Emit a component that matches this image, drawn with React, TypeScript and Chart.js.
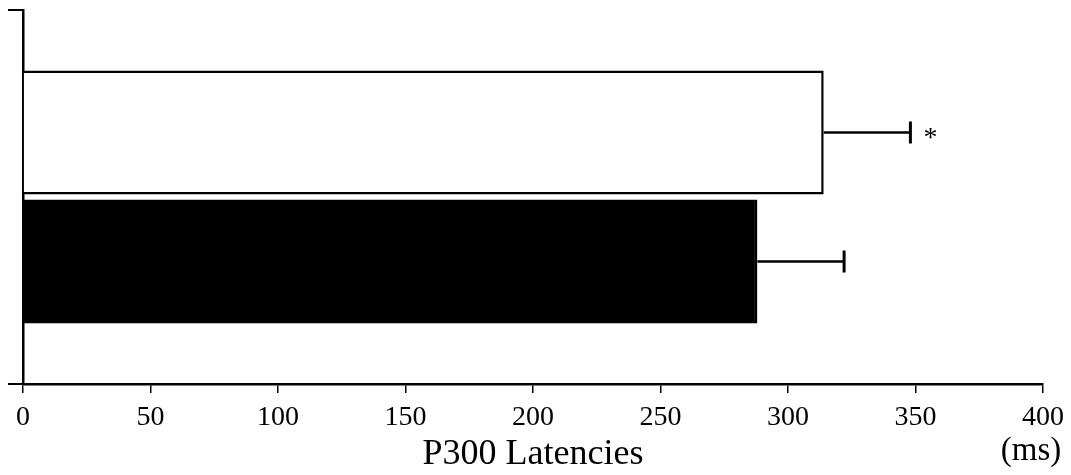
import React, { useEffect, useRef } from "react";
import { Chart, registerables } from "chart.js";

Chart.register(...registerables);

// ---- data ----
const categories = [""];
const groupNames = ["Group A", "Group B"];
const meanLatency = [314, 288]; // ms
const errorPlus = [34, 34]; // ms
const significance = ["*", ""];
const xTicks = [0, 50, 100, 150, 200, 250, 300, 350, 400];
const xTitle = "P300 Latencies";
const unitLabel = "(ms)";
const barFills = ["#ffffff", "#000000"];

const FONT = "'Liberation Serif', 'Times New Roman', serif";

const errorBarPlugin = {
  id: "errorBars",
  afterDatasetsDraw(chart: any) {
    const ctx = chart.ctx;
    const xs = chart.scales.x;
    ctx.save();
    ctx.strokeStyle = "#000";
    ctx.fillStyle = "#000";
    chart.data.datasets.forEach((ds: any, i: number) => {
      const meta = chart.getDatasetMeta(i);
      meta.data.forEach((el: any, j: number) => {
        const v = ds.data[j];
        const e = errorPlus[i];
        const x0 = el.x;
        const x1 = xs.getPixelForValue(v + e);
        const y = el.y;
        ctx.lineWidth = 2.5;
        ctx.beginPath();
        ctx.moveTo(x0, y);
        ctx.lineTo(x1, y);
        ctx.stroke();
        ctx.lineWidth = 3;
        ctx.beginPath();
        ctx.moveTo(x1, y - 11);
        ctx.lineTo(x1, y + 11);
        ctx.stroke();
        const s = significance[i];
        if (s) {
          ctx.font = `28px ${FONT}`;
          ctx.textAlign = "left";
          ctx.textBaseline = "middle";
          ctx.fillText(s, x1 + 13, y + 6);
        }
      });
    });
    // unit label under the last tick
    ctx.font = `33px ${FONT}`;
    ctx.textAlign = "center";
    ctx.textBaseline = "middle";
    ctx.fillText(unitLabel, xs.getPixelForValue(xTicks[xTicks.length - 1]) - 12, 451);
    ctx.restore();
  },
};

export default function App() {
  const ref = useRef<HTMLCanvasElement | null>(null);
  useEffect(() => {
    if (!ref.current) return;
    const chart = new Chart(ref.current, {
      type: "bar",
      data: {
        labels: categories,
        datasets: groupNames.map((name, i) => ({
          label: name,
          data: [meanLatency[i]],
          backgroundColor: barFills[i],
          borderColor: "#000",
          borderWidth: 2.5,
          borderSkipped: "start" as const,
          categoryPercentage: 0.69,
          barPercentage: 0.96,
        })),
      },
      options: {
        indexAxis: "y",
        animation: false,
        responsive: false,
        maintainAspectRatio: false,
        layout: { padding: { top: 10, right: 28, bottom: 0, left: 0 } },
        plugins: {
          legend: { display: false },
          tooltip: { enabled: false },
        },
        scales: {
          x: {
            type: "linear",
            min: 0,
            max: 400,
            afterBuildTicks: (scale: any) => {
              scale.ticks = xTicks.map((v) => ({ value: v }));
            },
            afterFit: (scale: any) => {
              scale.height = 91;
              scale.paddingLeft = 0;
              scale.paddingRight = 0;
            },
            border: { display: true, color: "#000", width: 2.5 },
            grid: {
              drawOnChartArea: false,
              drawTicks: true,
              tickLength: 9,
              color: "#000",
              lineWidth: 1.5,
            },
            ticks: {
              color: "#000",
              padding: 11,
              maxRotation: 0,
              font: { family: FONT, size: 28, lineHeight: 1 },
            },
            title: {
              display: true,
              text: xTitle,
              color: "#000",
              font: { family: FONT, size: 36, lineHeight: 1 },
              padding: { top: 0, bottom: 2 },
            },
          },
          y: {
            type: "category",
            offset: true,
            afterFit: (scale: any) => {
              scale.width = 23;
            },
            border: { display: true, color: "#000", width: 2.5 },
            grid: {
              offset: true,
              drawOnChartArea: false,
              drawTicks: true,
              tickLength: 15,
              color: "#000",
              lineWidth: 2,
            },
            ticks: { display: false },
          },
        },
      },
      plugins: [errorBarPlugin],
    } as any);
    return () => chart.destroy();
  }, []);
  return (
    <div style={{ position: "fixed", left: 0, top: 0, width: 1071, height: 475, background: "#fff" }}>
      <canvas ref={ref} width={1071} height={475} style={{ width: 1071, height: 475 }} />
    </div>
  );
}
